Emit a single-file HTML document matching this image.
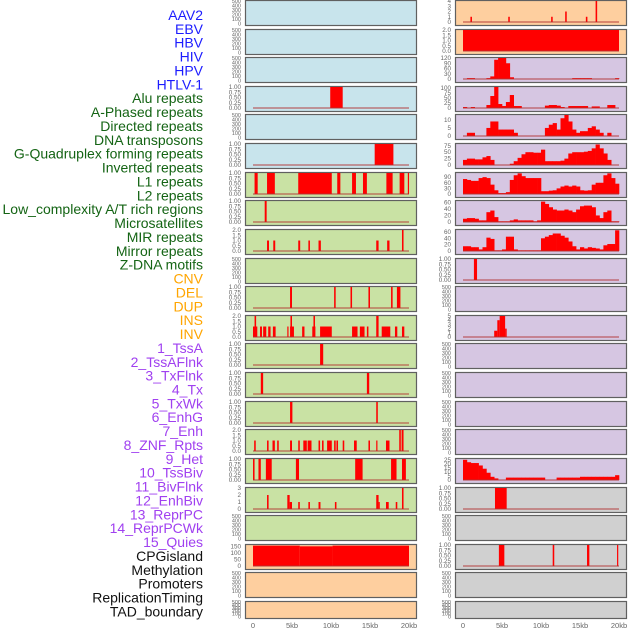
<!DOCTYPE html>
<html><head><meta charset="utf-8"><style>
html,body{margin:0;padding:0;background:#fff;}
svg{display:block;font-family:"Liberation Sans",sans-serif;}
</style></head><body>
<svg id="chart" width="630" height="630" viewBox="0 0 630 630" xmlns="http://www.w3.org/2000/svg"></svg>
<script>
// ---------- data ----------
const labels = ["AAV2","EBV","HBV","HIV","HPV","HTLV-1","Alu repeats","A-Phased repeats","Directed repeats","DNA transposons","G-Quadruplex forming repeats","Inverted repeats","L1 repeats","L2 repeats","Low_complexity A/T rich regions","Microsatellites","MIR repeats","Mirror repeats","Z-DNA motifs","CNV","DEL","DUP","INS","INV","1_TssA","2_TssAFlnk","3_TxFlnk","4_Tx","5_TxWk","6_EnhG","7_Enh","8_ZNF_Rpts","9_Het","10_TssBiv","11_BivFlnk","12_EnhBiv","13_ReprPC","14_ReprPCWk","15_Quies","CPGisland","Methylation","Promoters","ReplicationTiming","TAD_boundary"];
const labelGroups = ["v","v","v","v","v","v","r","r","r","r","r","r","r","r","r","r","r","r","r","s","s","s","s","s","c","c","c","c","c","c","c","c","c","c","c","c","c","c","c","o","o","o","o","o"];
const xTicks = [0,5,10,15,20];
const xTickLabels = ["0","5kb","10kb","15kb","20kb"];
const emptyTicks = [0,100,200,300,400,500];

// segment data: [startKb, endKb, value]
const segL3 = [[9.9,11.5,1]];
const segL5 = [[15.6,18.0,1]];
const segL6 = [[0.2,0.6,1],[1.8,2.8,1],[5.8,10.1,1],[10.8,11.2,1],[12.7,13.2,1],[14.1,14.6,1],[17.1,17.9,1],[18.8,19.4,1],[19.85,20.0,1]];
const segL7 = [[1.5,1.75,1]];
const segL8 = [[1.8,2.05,1],[2.6,2.85,1],[5.8,6.05,1],[7.1,7.3,1],[8.4,8.7,1],[15.8,16.1,1],[17.2,17.5,1],[19.1,19.3,2]];
const segL10 = [[4.75,5.0,1],[10.4,10.6,1],[12.5,12.7,1],[14.8,15.0,1],[17.7,17.9,1],[18.45,18.9,1]];
const segL11 = [[0.0,0.55,1],[0.2,0.4,2],[0.9,1.15,1],[1.3,1.7,1],[1.95,2.25,1],[2.55,2.9,1],[4.4,4.55,1],[4.75,5.25,1],[4.8,5.0,2],[6.3,6.6,1],[7.6,8.0,1],[7.75,7.95,2],[8.6,10.1,1],[12.7,13.4,1],[13.7,14.3,1],[14.6,14.8,1],[15.8,16.1,2],[16.5,17.6,1],[18.2,18.5,1],[19.1,19.4,1]];
const segL12 = [[8.6,9.0,1]];
const segL13 = [[1.0,1.3,1],[14.6,14.9,1]];
const segL14 = [[4.75,5.05,1],[15.8,16.0,1]];
const segL15 = [[0.15,0.35,1],[1.8,2.0,1],[2.5,2.8,1],[3.1,3.3,1],[4.75,5.0,1],[5.8,6.0,1],[6.45,6.9,1],[7.0,7.5,1],[8.4,8.6,1],[8.85,9.05,1],[9.5,10.1,1],[10.4,10.6,1],[10.7,10.9,1],[11.5,11.7,1],[12.95,13.3,1],[14.8,15.0,1],[15.8,15.95,1],[17.05,17.5,1],[18.75,18.95,2],[19.05,19.3,2]];
const segL16 = [[0.0,0.2,1],[0.7,1.0,1],[1.65,2.4,1],[5.5,5.9,1],[13.1,14.05,1],[17.7,18.4,1],[19.1,19.6,1]];
const segL17 = [[1.8,2.0,2],[4.4,4.7,2],[4.7,5.0,1],[5.8,6.0,1],[7.1,7.3,1],[8.4,8.65,1],[10.5,10.7,1],[15.8,16.1,2],[16.1,16.25,1],[17.05,17.4,1],[18.3,18.5,1],[19.1,19.3,3]];
const segL19 = [[0.0,6.0,155],[6.0,10.2,150],[10.2,20.0,155]];
const segR0 = [[0.95,1.15,1],[5.8,6.0,1],[11.3,11.5,1],[13.1,13.3,2],[15.75,15.95,1],[17.0,17.2,4]];
const segR1 = [[0.0,20.0,2]];
const segR9 = [[1.4,1.8,1]];
const segR11 = [[4.0,4.4,1.5],[4.4,4.7,4],[4.7,5.4,5],[5.4,5.6,2]];
const segR17 = [[4.1,5.6,1]];
const segR19 = [[4.6,5.3,1],[11.5,11.7,1],[15.9,16.2,1],[19.75,19.9,1]];

// binned profiles: 40 bins of 0.5kb
const binR2 = [0,5,5,0,0,0,5,15,110,120,120,90,10,0,0,0,0,0,0,0,0,0,0,0,0,0,0,0,5,5,5,5,5,0,0,0,0,0,0,5];
const binR3 = [5,0,5,0,0,0,15,60,105,20,10,30,65,10,10,0,0,0,0,0,0,12,15,15,12,5,0,10,10,10,10,10,0,8,8,0,0,15,15,0];
const binR4 = [0,2,2,0,0,0,5,9,9,4,4,4,4,2,0,0,0,0,0,0,0,5,7,8,4,11,13,9,4,2,3,3,5,6,4,2,0,2,0,0];
const binR5 = [20,25,25,22,22,30,35,20,0,0,0,0,5,15,28,42,50,50,48,48,60,15,15,15,15,17,25,45,50,50,50,52,55,65,80,65,45,20,0,0];
const binR6 = [80,75,70,70,85,90,85,50,20,5,5,10,75,100,110,95,85,85,85,85,15,15,18,20,30,40,45,40,45,40,20,18,20,50,60,60,100,110,85,55];
const binR7 = [10,12,12,10,5,5,30,35,15,2,2,2,5,8,5,5,5,5,2,5,62,55,45,38,35,35,38,35,30,38,48,50,50,45,20,12,30,35,2,2];
const binR8 = [15,15,12,12,5,12,42,38,2,2,5,45,45,5,2,2,2,2,2,2,40,45,50,55,55,48,42,30,15,5,12,8,12,10,8,5,18,22,22,65];
const binR16 = [25,22,21,21,18,14,9,4,2,0,0,3,3,3,3,3,3,3,3,3,3,0,0,0,3,3,3,3,3,3,4,4,4,4,4,4,4,4,4,6];

// panel definitions
const BLUE="#c8e4ec", GREEN="#c9e2a4", ORANGE="#fecf9f", PURPLE="#d6c6e2", GRAY="#d0d0d0";
const panels = [
 {c:0,r:0,bg:BLUE},{c:0,r:1,bg:BLUE},{c:0,r:2,bg:BLUE},
 {c:0,r:3,bg:BLUE,max:1,ticks:[0,0.25,0.5,0.75,1],dec:2,seg:segL3},
 {c:0,r:4,bg:BLUE},
 {c:0,r:5,bg:BLUE,max:1,ticks:[0,0.25,0.5,0.75,1],dec:2,seg:segL5},
 {c:0,r:6,bg:GREEN,max:1,ticks:[0,0.25,0.5,0.75,1],dec:2,seg:segL6},
 {c:0,r:7,bg:GREEN,max:1,ticks:[0,0.25,0.5,0.75,1],dec:2,seg:segL7},
 {c:0,r:8,bg:GREEN,max:2,ticks:[0,0.5,1,1.5,2],dec:1,seg:segL8},
 {c:0,r:9,bg:GREEN},
 {c:0,r:10,bg:GREEN,max:1,ticks:[0,0.25,0.5,0.75,1],dec:2,seg:segL10},
 {c:0,r:11,bg:GREEN,max:2,ticks:[0,0.5,1,1.5,2],dec:1,seg:segL11},
 {c:0,r:12,bg:GREEN,max:1,ticks:[0,0.25,0.5,0.75,1],dec:2,seg:segL12},
 {c:0,r:13,bg:GREEN,max:1,ticks:[0,0.25,0.5,0.75,1],dec:2,seg:segL13},
 {c:0,r:14,bg:GREEN,max:1,ticks:[0,0.25,0.5,0.75,1],dec:2,seg:segL14},
 {c:0,r:15,bg:GREEN,max:2,ticks:[0,0.5,1,1.5,2],dec:1,seg:segL15},
 {c:0,r:16,bg:GREEN,max:1,ticks:[0,0.25,0.5,0.75,1],dec:2,seg:segL16},
 {c:0,r:17,bg:GREEN,max:3,ticks:[0,1,2,3],dec:0,seg:segL17},
 {c:0,r:18,bg:GREEN},
 {c:0,r:19,bg:ORANGE,max:160,ticks:[0,50,100,150],dec:0,seg:segL19},
 {c:0,r:20,bg:ORANGE},{c:0,r:21,bg:ORANGE},
 {c:1,r:0,bg:ORANGE,max:4,ticks:[0,1,2,3,4],dec:0,seg:segR0},
 {c:1,r:1,bg:ORANGE,max:2,ticks:[0,0.5,1,1.5,2],dec:1,seg:segR1},
 {c:1,r:2,bg:PURPLE,max:120,ticks:[0,30,60,90,120],dec:0,bins:binR2},
 {c:1,r:3,bg:PURPLE,max:105,ticks:[0,25,50,75,100],dec:0,bins:binR3},
 {c:1,r:4,bg:PURPLE,max:13,ticks:[0,5,10],dec:0,bins:binR4},
 {c:1,r:5,bg:PURPLE,max:82,ticks:[0,25,50,75],dec:0,bins:binR5},
 {c:1,r:6,bg:PURPLE,max:112,ticks:[0,30,60,90],dec:0,bins:binR6},
 {c:1,r:7,bg:PURPLE,max:64,ticks:[0,20,40,60],dec:0,bins:binR7},
 {c:1,r:8,bg:PURPLE,max:66,ticks:[0,20,40,60],dec:0,bins:binR8},
 {c:1,r:9,bg:PURPLE,max:1,ticks:[0,0.25,0.5,0.75,1],dec:2,seg:segR9},
 {c:1,r:10,bg:PURPLE},
 {c:1,r:11,bg:PURPLE,max:5,ticks:[0,1,2,3,4,5],dec:0,seg:segR11},
 {c:1,r:12,bg:PURPLE},{c:1,r:13,bg:PURPLE},{c:1,r:14,bg:PURPLE},{c:1,r:15,bg:PURPLE},
 {c:1,r:16,bg:PURPLE,max:26,ticks:[0,5,10,15,20,25],dec:0,bins:binR16},
 {c:1,r:17,bg:GRAY,max:1,ticks:[0,0.25,0.5,0.75,1],dec:2,seg:segR17},
 {c:1,r:18,bg:GRAY},
 {c:1,r:19,bg:GRAY,max:1,ticks:[0,0.25,0.5,0.75,1],dec:2,seg:segR19},
 {c:1,r:20,bg:GRAY},{c:1,r:21,bg:GRAY}
];

// ---------- drawing ----------
const NS="http://www.w3.org/2000/svg";
const svg=document.getElementById('chart');
function mk(tag,attrs,parent){const e=document.createElementNS(NS,tag);for(const k in attrs)e.setAttribute(k,attrs[k]);(parent||svg).appendChild(e);return e;}
const groupColor={v:"#1c1cff",r:"#146414",s:"#ffa500",c:"#a040f0",o:"#111"};
labels.forEach((t,i)=>{
  const e=mk('text',{x:203,y:20+i*13.87,'text-anchor':'end','font-size':'14',fill:groupColor[labelGroups[i]]});
  e.textContent=t;
  
  
});
const colX=[245,455], PW=171;
function rowTop(r){return Math.round(r*28.62);}
function rowH(r){return r===21?17:25;}
function xScale(c,kb){return colX[c]+8+kb*7.8;}
panels.forEach((p,pi)=>{
  const g=mk('g',{});
  
  
  const top=rowTop(p.r), h=rowH(p.r), x0=colX[p.c];
  mk('rect',{x:x0+0.5,y:top+0.5,width:PW,height:h,fill:p.bg,stroke:'#606060','stroke-width':1.2},g);
  const hasData=!!(p.seg||p.bins);
  const max=hasData?p.max:500;
  const pad=hasData?max*0.07:0;
  const yS=v=>top+h-1.5-(v+pad)/(max+pad)*(h-2.5);
  const ticks=hasData?p.ticks:emptyTicks;
  ticks.forEach(tv=>{
    const tt=mk('text',{x:x0-4,y:yS(tv)+2,'text-anchor':'end','font-size':hasData?'6.3':'5.5',fill:'#666'},g);
    tt.textContent=hasData?tv.toFixed(p.dec):String(tv);
    
    
  });
  if(!hasData)return;
  if(p.seg){
    p.seg.forEach(s=>{
      const xa=xScale(p.c,s[0]), xb=xScale(p.c,s[1]);
      const b=mk('rect',{x:xa,y:yS(s[2]),width:Math.max(1.2,xb-xa),height:yS(0)-yS(s[2]),fill:'#ff0000'},g);
      
      
    });
  } else {
    p.bins.forEach((v,i)=>{
      if(v<=0)return;
      const xa=xScale(p.c,i*0.5), xb=xScale(p.c,(i+1)*0.5);
      const b=mk('rect',{x:xa,y:yS(v),width:xb-xa+0.3,height:yS(0)-yS(v),fill:'#ff0000'},g);
      
      
    });
  }
  const bl=mk('line',{x1:xScale(p.c,0),x2:xScale(p.c,20),y1:yS(0),y2:yS(0),stroke:'#b03030','stroke-opacity':0.6,'stroke-width':1.5},g);
  
  
});
[0,1].forEach(c=>{
  xTicks.forEach((kb,i)=>{
    const t=mk('text',{x:xScale(c,kb),y:628,'text-anchor':'middle','font-size':'7.5',fill:'#666'});
    t.textContent=xTickLabels[i];
    
    
  });
});
</script>
</body></html>
